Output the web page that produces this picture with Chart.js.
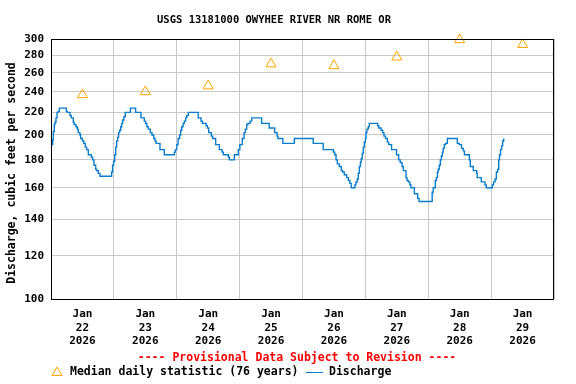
<!DOCTYPE html>
<html>
<head>
<meta charset="utf-8">
<script src="https://cdn.jsdelivr.net/npm/chart.js@4.4.1/dist/chart.umd.min.js"></script>
<style>
  html, body { margin: 0; padding: 0; background: #fff; }
  #wrap { width: 576px; height: 384px; }
</style>
</head>
<body>
<div id="wrap"><canvas id="chart" width="576" height="384"></canvas></div>
<script>
// --- data (hours after Jan 22 2026 00:00) ---
const dayLabels = ['22', '23', '24', '25', '26', '27', '28', '29'];
const yTicks = [100, 120, 140, 160, 180, 200, 220, 240, 260, 280, 300];

const medianHours = [12, 36, 60, 84, 108, 132, 156, 180];
const medianCfs = [237, 240, 246, 270, 268, 278, 299, 293];

// discharge, change points of the step line
const dischargeHours = [
  0.25, 0.65, 0.9, 1.25, 1.5, 1.9, 2.3, 2.8, 3.2, 5.85, 6.2, 7.25, 7.75, 8.5, 8.8, 9.5, 10.05, 10.4,
  11.05, 11.3, 12.0, 12.5, 13.1, 13.6, 14.25, 15.4, 15.9, 16.4, 17.05, 17.4, 18.05, 18.7,
  23.15, 23.5, 23.9, 24.3, 24.7, 25.05, 25.45, 25.8, 26.2, 26.6, 27.0, 27.35, 27.85, 28.35, 30.3, 32.3,
  34.35, 35.6, 36.1, 36.6, 37.15, 37.9, 38.55, 39.2, 39.7, 40.1, 41.6, 43.25,
  47.1, 47.5, 48.0, 48.5, 49.1, 49.5, 49.9, 50.4, 50.9, 51.4, 51.8, 52.4, 56.2, 57.25, 57.8,
  59.2, 59.7, 60.2, 61.2, 61.7, 62.85, 64.25, 65.3, 65.8, 67.7, 68.1,
  70.0, 71.5, 72.1, 73.0, 73.7, 74.2, 74.7, 75.2, 75.95, 76.6, 80.4, 83.3, 85.4, 86.3, 86.6, 88.5, 92.9,
  100.1, 103.9, 107.8, 108.3, 108.8, 109.3, 110.05, 110.8, 111.3, 111.95, 112.85, 113.5, 114.1, 114.6,
  116.0, 116.4, 116.9, 117.3, 117.7, 118.1, 118.4, 118.8, 119.2, 119.6, 120.0, 120.2, 120.6, 121.1, 121.5,
  124.7, 125.1, 126.0, 126.6, 127.1, 127.7, 128.4, 128.9, 130.0, 131.9, 132.7, 133.3, 134.0, 134.5,
  135.5, 135.9, 136.4, 137.0, 137.4, 138.7, 139.95, 140.5,
  145.5, 145.9, 146.7, 147.1, 147.5, 147.8, 148.2, 148.6, 149.0, 149.4, 149.7, 150.1, 150.6, 151.3,
  155.1, 155.85, 156.7, 157.4, 157.8, 159.7, 160.05, 161.2, 162.5, 162.7, 164.25, 165.65, 166.15,
  168.45, 168.95, 169.5, 170.0, 170.5, 170.9, 171.2, 171.6, 172.0, 172.4, 172.8
];
const dischargeCfs = [
  192, 196, 203, 209, 211, 215, 220, 221, 224, 221, 220, 217, 215, 211, 209, 207, 205, 202,
  200, 197, 195, 193, 190, 188, 184, 182, 180, 176, 173, 172, 170, 168,
  171, 176, 179, 184, 190, 195, 198, 202, 204, 207, 210, 213, 216, 220, 224, 220,
  215, 212, 210, 207, 205, 202, 200, 197, 195, 193, 188, 184,
  186, 188, 192, 197, 200, 204, 207, 210, 212, 215, 217, 220, 215, 212, 210,
  208, 206, 202, 199, 197, 192, 188, 186, 184, 182, 180,
  184, 188, 192, 197, 202, 205, 209, 210, 212, 215, 210, 206, 202, 199, 197, 193, 197,
  193, 188, 186, 184, 180, 177, 175, 172, 171, 169, 167, 165, 163, 160,
  162, 164, 166, 170, 175, 178, 181, 185, 190, 194, 197, 202, 205, 207, 210,
  208, 206, 204, 202, 199, 197, 194, 192, 188, 184, 180, 178, 175, 172,
  167, 165, 164, 162, 160, 156, 153, 151,
  157, 160, 165, 167, 171, 173, 176, 180, 183, 186, 189, 192, 193, 197,
  193, 192, 189, 187, 184, 180, 175, 172, 170, 167, 164, 162, 160,
  162, 164, 166, 171, 173, 180, 184, 188, 191, 195, 197
];

const FONT = '"DejaVu Sans Mono", monospace';
const ORANGE = '#ffa500';
const BLUE = '#0a7dcc';

// frame, title, axis title, provisional note and legend
const decor = {
  id: 'decor',
  afterDraw(chart){
    const { ctx, chartArea: a } = chart;
    ctx.save();
    ctx.strokeStyle = '#000';
    ctx.lineWidth = 1;
    ctx.strokeRect(a.left + 0.5, a.top + 0.5, a.right - a.left - 1, a.bottom - a.top);

    ctx.fillStyle = '#000';
    ctx.textAlign = 'center';
    ctx.textBaseline = 'middle';
    ctx.font = 'bold 10.5px ' + FONT;
    ctx.fillText('USGS 13181000 OWYHEE RIVER NR ROME OR', 274, 20);

    ctx.save();
    ctx.translate(12, 173);
    ctx.rotate(-Math.PI / 2);
    ctx.font = 'bold 11.5px ' + FONT;
    ctx.fillText('Discharge, cubic feet per second', 0, 0);
    ctx.restore();

    ctx.font = 'bold 11.5px ' + FONT;
    ctx.fillStyle = '#ff0000';
    ctx.fillText('---- Provisional Data Subject to Revision ----', 297, 358);

    // legend
    const ly = 372;
    ctx.strokeStyle = ORANGE;
    ctx.beginPath();
    ctx.moveTo(57, ly - 5);
    ctx.lineTo(62, ly + 3.5);
    ctx.lineTo(52, ly + 3.5);
    ctx.closePath();
    ctx.stroke();
    ctx.fillStyle = '#000';
    ctx.textAlign = 'left';
    ctx.fillText('Median daily statistic (76 years)', 70, ly);
    ctx.strokeStyle = BLUE;
    ctx.beginPath();
    ctx.moveTo(306, ly + 0.5);
    ctx.lineTo(323, ly + 0.5);
    ctx.stroke();
    ctx.fillText('Discharge', 329, ly);
    ctx.restore();
  }
};

new Chart(document.getElementById('chart'), {
  type: 'scatter',
  data: {
    datasets: [
      {
        label: 'Discharge',
        data: dischargeHours.map((h, i) => ({ x: h, y: dischargeCfs[i] })),
        showLine: true,
        stepped: true,
        borderColor: BLUE,
        borderWidth: 1.4,
        pointRadius: 0,
        fill: false
      },
      {
        label: 'Median daily statistic (76 years)',
        data: medianHours.map((h, i) => ({ x: h, y: medianCfs[i] })),
        showLine: false,
        pointStyle: 'triangle',
        pointRadius: 5.8,
        borderColor: ORANGE,
        backgroundColor: 'rgba(0,0,0,0)',
        borderWidth: 1,
        clip: false
      }
    ]
  },
  options: {
    responsive: false,
    animation: false,
    devicePixelRatio: 1,
    layout: { padding: { top: 39, right: 22, left: 0, bottom: 0 } },
    plugins: { legend: { display: false }, tooltip: { enabled: false } },
    scales: {
      x: {
        type: 'linear',
        min: 0,
        max: 192,
        afterFit(scale){ scale.height = 85; },
        afterBuildTicks(scale){
          const t = [];
          for (let h = 0; h <= 192; h += 12) t.push({ value: h });
          scale.ticks = t;
        },
        grid: {
          drawTicks: false,
          color: c => (c.tick && c.tick.value % 24 === 0) ? '#c8c8c8' : 'rgba(0,0,0,0)',
          lineWidth: 1
        },
        border: { display: false },
        ticks: {
          autoSkip: false,
          maxRotation: 0,
          padding: 9,
          color: '#000',
          font: { family: FONT, size: 11, weight: 'bold', lineHeight: 1.2 },
          callback(v){
            if (v % 24 !== 12) return '';
            return ['Jan', dayLabels[(v - 12) / 24], '2026'];
          }
        }
      },
      y: {
        type: 'logarithmic',
        min: 100,
        max: 300,
        afterFit(scale){ scale.width = 51; },
        afterBuildTicks(scale){ scale.ticks = yTicks.map(v => ({ value: v })); },
        grid: { drawTicks: false, color: '#c8c8c8', lineWidth: 1 },
        border: { display: false },
        ticks: {
          padding: 7,
          color: '#000',
          font: { family: FONT, size: 11, weight: 'bold' },
          callback: v => String(v)
        }
      }
    }
  },
  plugins: [decor]
});
</script>
</body>
</html>
